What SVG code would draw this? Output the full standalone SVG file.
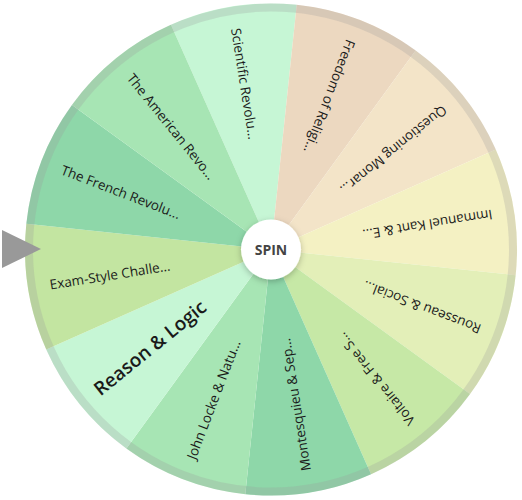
<svg xmlns="http://www.w3.org/2000/svg" width="522" height="500" viewBox="0 0 522 500">
<style>
.lbl{font-family:"Open Sans","Liberation Sans",sans-serif;font-size:13.5px;font-weight:500;fill:#1a1a1a;dominant-baseline:central;}
.big{font-size:19px;font-weight:600;}
.spin{font-family:"Open Sans","Liberation Sans",sans-serif;font-size:14px;font-weight:700;fill:#444;}
</style>
<defs>
<path id="wedge" d="M271,249.5 L508.62,185.83 A246,246 0 0 1 508.62,313.17 Z"/>
<filter id="sh" x="-50%" y="-50%" width="200%" height="200%">
<feDropShadow dx="0" dy="2" stdDeviation="3" flood-color="#000" flood-opacity="0.25"/>
</filter>
</defs>
<g id="wheel">
<g id="seg-scientific" transform="rotate(-99 271 249.5)"><use href="#wedge" fill="#c6f6d5"/><text class="lbl" x="47" y="249.5" transform="rotate(180 271 249.5)">Scientific Revolu...</text></g>
<g id="seg-freedom" transform="rotate(-69 271 249.5)"><use href="#wedge" fill="#ecd8c0"/><text class="lbl" x="47" y="249.5" transform="rotate(180 271 249.5)">Freedom of Religi...</text></g>
<g id="seg-questioning" transform="rotate(-39 271 249.5)"><use href="#wedge" fill="#f3e4c8"/><text class="lbl" x="47" y="249.5" transform="rotate(180 271 249.5)">Questioning Monar...</text></g>
<g id="seg-kant" transform="rotate(-9 271 249.5)"><use href="#wedge" fill="#f4f1c3"/><text class="lbl" x="47" y="249.5" transform="rotate(180 271 249.5)">Immanuel Kant &amp; E...</text></g>
<g id="seg-rousseau" transform="rotate(21 271 249.5)"><use href="#wedge" fill="#e3efb8"/><text class="lbl" x="47" y="249.5" transform="rotate(180 271 249.5)">Rousseau &amp; Social...</text></g>
<g id="seg-voltaire" transform="rotate(51 271 249.5)"><use href="#wedge" fill="#c6e8a6"/><text class="lbl" x="47" y="249.5" transform="rotate(180 271 249.5)">Voltaire &amp; Free S...</text></g>
<g id="seg-montesquieu" transform="rotate(81 271 249.5)"><use href="#wedge" fill="#8ed7a9"/><text class="lbl" x="47" y="249.5" transform="rotate(180 271 249.5)">Montesquieu &amp; Sep...</text></g>
<g id="seg-locke" transform="rotate(111 271 249.5)"><use href="#wedge" fill="#a7e5b4"/><text class="lbl" x="47" y="249.5" transform="rotate(180 271 249.5)">John Locke &amp; Natu...</text></g>
<g id="seg-reason" transform="rotate(141 271 249.5)"><use href="#wedge" fill="#c6f6d5"/><text class="lbl big" x="46" y="249.5" transform="rotate(180 271 249.5)">Reason &amp; Logic</text></g>
<g id="seg-exam" transform="rotate(171 271 249.5)"><use href="#wedge" fill="#c3e5a1"/><text class="lbl" x="47" y="249.5" transform="rotate(180 271 249.5)">Exam-Style Challe...</text></g>
<g id="seg-french" transform="rotate(201 271 249.5)"><use href="#wedge" fill="#8ed7a9"/><text class="lbl" x="47" y="249.5" transform="rotate(180 271 249.5)">The French Revolu...</text></g>
<g id="seg-american" transform="rotate(231 271 249.5)"><use href="#wedge" fill="#a7e5b4"/><text class="lbl" x="47" y="249.5" transform="rotate(180 271 249.5)">The American Revo...</text></g>
<circle id="rim" cx="271" cy="249.5" r="242" fill="none" stroke="#9a9a9a" stroke-opacity="0.26" stroke-width="8"/>
</g>
<g id="spin-button">
<circle cx="271" cy="249.5" r="30" fill="#fff" filter="url(#sh)"/>
<text class="spin" x="271" y="254.5" text-anchor="middle">SPIN</text>
</g>
<g id="pointer">
<polygon points="2,230 2,268 41,249" fill="#999"/>
</g>
</svg>
